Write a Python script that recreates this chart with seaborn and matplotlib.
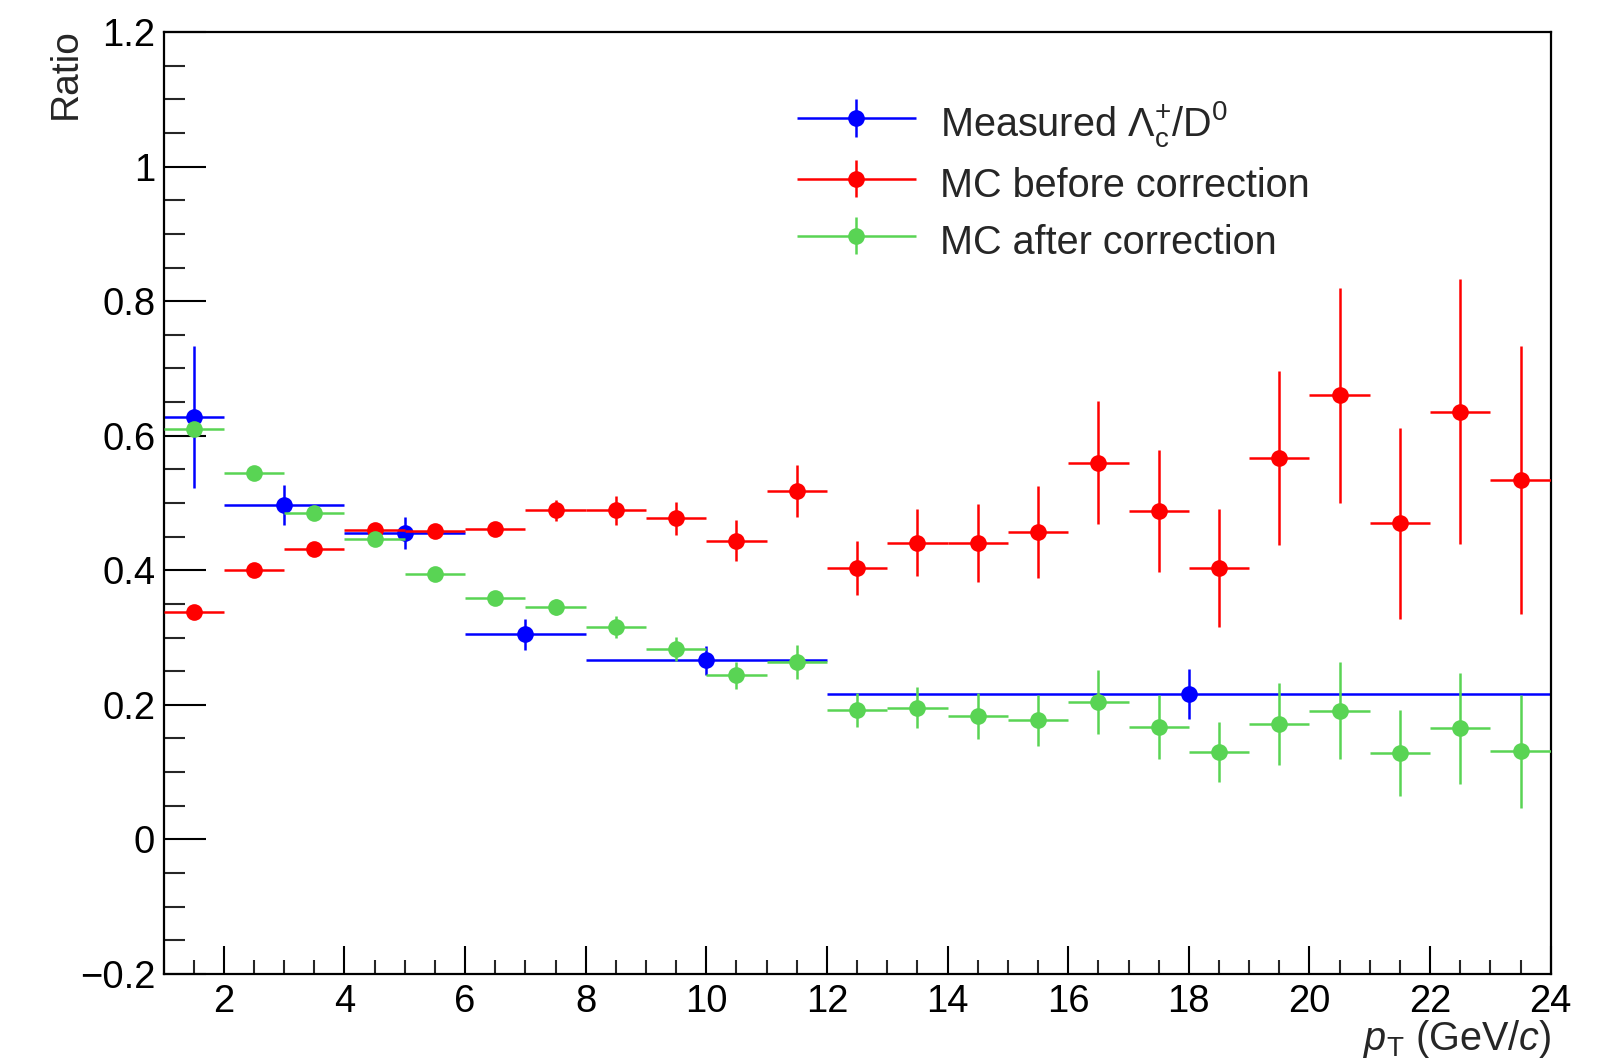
import numpy as np
import pandas as pd
import matplotlib
matplotlib.use("Agg")
import matplotlib.pyplot as plt
import seaborn as sns
from matplotlib.ticker import MultipleLocator, FixedLocator
from matplotlib.container import ErrorbarContainer
from matplotlib.legend_handler import HandlerErrorbar

# ---------------- data ----------------
meas_lo = [1, 2, 4, 6, 8, 12]
meas_hi = [2, 4, 6, 8, 12, 24]
meas_x = [1.5, 3, 5, 7, 10, 18]
meas_y = [0.628, 0.497, 0.455, 0.305, 0.266, 0.216]
meas_err = [0.105, 0.030, 0.024, 0.023, 0.021, 0.037]

mc_lo = [1, 2, 3, 4, 5, 6, 7, 8, 9, 10, 11, 12, 13, 14, 15, 16, 17, 18, 19, 20, 21, 22, 23]
mc_hi = [2, 3, 4, 5, 6, 7, 8, 9, 10, 11, 12, 13, 14, 15, 16, 17, 18, 19, 20, 21, 22, 23, 24]

before_y = [0.338, 0.400, 0.432, 0.460, 0.459, 0.462, 0.489, 0.489, 0.477, 0.444, 0.518,
            0.403, 0.441, 0.440, 0.457, 0.560, 0.488, 0.403, 0.567, 0.660, 0.470, 0.636, 0.534]
before_err = [0.006, 0.006, 0.007, 0.007, 0.007, 0.008, 0.016, 0.021, 0.025, 0.030, 0.039,
              0.040, 0.050, 0.058, 0.068, 0.091, 0.091, 0.088, 0.129, 0.160, 0.142, 0.197, 0.199]

after_y = [0.610, 0.545, 0.485, 0.446, 0.395, 0.359, 0.345, 0.316, 0.283, 0.244, 0.264,
           0.192, 0.196, 0.183, 0.177, 0.204, 0.167, 0.130, 0.172, 0.191, 0.128, 0.165, 0.131]
after_err = [0.008, 0.007, 0.007, 0.007, 0.007, 0.008, 0.012, 0.016, 0.018, 0.020, 0.025,
             0.025, 0.030, 0.034, 0.038, 0.048, 0.047, 0.044, 0.061, 0.072, 0.064, 0.083, 0.084]

series_labels = [r"Measured $\mathrm{Λ}_{\mathrm{c}}^{+}\mathrm{/D}^{0}$",
                 "MC before correction", "MC after correction"]
series_colors = ["#0000FF", "#FF0000", "#59D454"]

x_ticks = [2, 4, 6, 8, 10, 12, 14, 16, 18, 20, 22, 24]
x_tick_labels = ["2", "4", "6", "8", "10", "12", "14", "16", "18", "20", "22", "24"]
y_ticks = [-0.2, 0.0, 0.2, 0.4, 0.6, 0.8, 1.0, 1.2]
y_tick_labels = ["\u22120.2", "0", "0.2", "0.4", "0.6", "0.8", "1", "1.2"]

x_title = r"$p_{\mathrm{T}}$ (GeV/$c$)"
y_title = "Ratio"

# ---------------- tables ----------------
mc_lo_a = np.array(mc_lo, float)
mc_hi_a = np.array(mc_hi, float)
mc_x = (mc_lo_a + mc_hi_a) / 2.0

df_meas = pd.DataFrame({"pt": meas_x, "ratio": meas_y, "err": meas_err,
                        "lo": meas_lo, "hi": meas_hi})
df_before = pd.DataFrame({"pt": mc_x, "ratio": before_y, "err": before_err,
                          "lo": mc_lo_a, "hi": mc_hi_a})
df_after = pd.DataFrame({"pt": mc_x, "ratio": after_y, "err": after_err,
                         "lo": mc_lo_a, "hi": mc_hi_a})

# ---------------- style ----------------
sns.set_theme(style="white")
plt.rcParams["font.family"] = ["Liberation Sans", "DejaVu Sans"]
plt.rcParams["mathtext.fontset"] = "custom"
plt.rcParams["mathtext.rm"] = "Liberation Sans"
plt.rcParams["mathtext.it"] = "Liberation Sans:italic"
plt.rcParams["mathtext.bf"] = "Liberation Sans:bold"
plt.rcParams["axes.unicode_minus"] = True

fig = plt.figure(figsize=(16.03, 10.64), dpi=100)
fig.patch.set_facecolor("white")
ax = fig.add_axes([0.1020, 0.0846, 0.8654, 0.8853])
ax.set_facecolor("white")

ms = 12
lw = 1.8
handles = []
for i, (df, col, lab) in enumerate(zip([df_meas, df_before, df_after], series_colors, series_labels)):
    z = 2 + 2 * i
    xerr = np.vstack([df["pt"] - df["lo"], df["hi"] - df["pt"]])
    ax.errorbar(df["pt"], df["ratio"], xerr=xerr, yerr=df["err"], fmt="none",
                ecolor=col, elinewidth=lw, capsize=0, zorder=z)
    sns.scatterplot(data=df, x="pt", y="ratio", color=col, s=ms ** 2, linewidth=0,
                    ax=ax, zorder=z + 1, legend=False)
    h = ax.errorbar([np.nan], [np.nan], xerr=[0.1], yerr=[0.1], fmt="o", color=col,
                    ms=ms, mew=0, elinewidth=lw, capsize=0, label=lab)
    handles.append(h)

ax.set_xlim(1, 24)
ax.set_ylim(-0.2, 1.2)

ax.xaxis.set_major_locator(FixedLocator(x_ticks))
ax.set_xticklabels(x_tick_labels)
ax.xaxis.set_minor_locator(MultipleLocator(0.5))
ax.yaxis.set_major_locator(FixedLocator(y_ticks))
ax.set_yticklabels(y_tick_labels)
ax.yaxis.set_minor_locator(MultipleLocator(0.05))

tick_fs = 27.5
ax.tick_params(axis="x", which="major", direction="in", length=20, width=1.5,
               labelsize=tick_fs, pad=7, top=False, bottom=True, colors="black")
ax.tick_params(axis="x", which="minor", direction="in", length=10, width=1.5,
               top=False, bottom=True)
ax.tick_params(axis="y", which="major", direction="in", length=30, width=1.5,
               labelsize=tick_fs, pad=6, left=True, right=False, colors="black")
ax.tick_params(axis="y", which="minor", direction="in", length=15, width=1.5,
               left=True, right=False)
for sp in ax.spines.values():
    sp.set_visible(True)
    sp.set_color("black")
    sp.set_linewidth(1.6)

ax.set_xlabel(x_title, fontsize=28.5, ha="right")
ax.xaxis.set_label_coords(1.0, -0.0465)
ax.set_ylabel(y_title, fontsize=28, ha="right")
ax.yaxis.set_label_coords(-0.0575, 1.0045)

ax.legend(handles=handles, loc="upper left", bbox_to_anchor=(0.4567, 0.9288),
          frameon=False, fontsize=28.5, handlelength=3.0, handletextpad=0.62,
          handleheight=1.4, labelspacing=0.29, borderpad=0, borderaxespad=0,
          handler_map={ErrorbarContainer: HandlerErrorbar(xerr_size=1.5, yerr_size=0.47)})

fig.savefig("out.png", dpi=100, facecolor="white")
